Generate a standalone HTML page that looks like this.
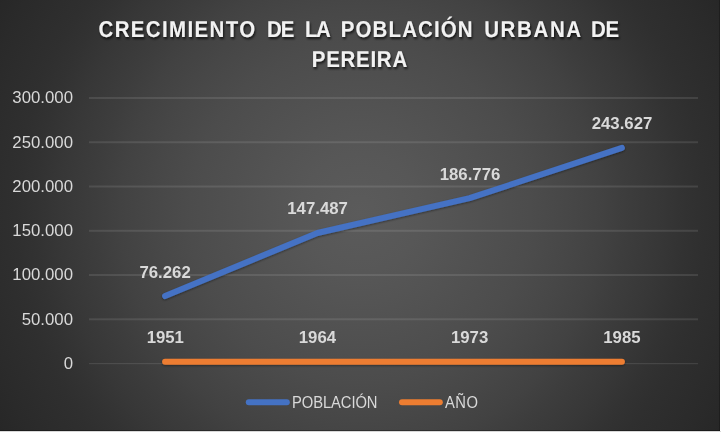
<!DOCTYPE html>
<html>
<head>
<meta charset="utf-8">
<style>
html,body{margin:0;padding:0;background:#fff;width:723px;height:432px;overflow:hidden}
svg{display:block;position:absolute;left:0;top:0}
text{font-family:"Liberation Sans",sans-serif}
</style>
</head>
<body>
<svg width="723" height="432" viewBox="0 0 723 432">
  <defs>
    <radialGradient id="bg" gradientUnits="userSpaceOnUse" cx="360" cy="213" r="421">
      <stop offset="0.0000" stop-color="rgb(91,91,91)"/>
      <stop offset="0.1425" stop-color="rgb(87,87,87)"/>
      <stop offset="0.3088" stop-color="rgb(80,80,80)"/>
      <stop offset="0.4038" stop-color="rgb(76,76,76)"/>
      <stop offset="0.4917" stop-color="rgb(71,71,71)"/>
      <stop offset="0.5701" stop-color="rgb(66,66,66)"/>
      <stop offset="0.6295" stop-color="rgb(61,61,61)"/>
      <stop offset="0.7126" stop-color="rgb(55,55,55)"/>
      <stop offset="0.7720" stop-color="rgb(50,50,50)"/>
      <stop offset="0.8195" stop-color="rgb(47,47,47)"/>
      <stop offset="0.9382" stop-color="rgb(41.5,41.5,41.5)"/>
      <stop offset="1.0000" stop-color="rgb(39,39,39)"/>
    </radialGradient>
    <filter id="shd" x="-10%" y="-30%" width="120%" height="160%">
      <feGaussianBlur in="SourceAlpha" stdDeviation="1.2"/>
      <feOffset dx="0.3" dy="0.6" result="b"/>
      <feComponentTransfer><feFuncA type="linear" slope="0.42"/></feComponentTransfer>
      <feMerge><feMergeNode/><feMergeNode in="SourceGraphic"/></feMerge>
    </filter>
    <filter id="tshd" x="-5%" y="-30%" width="110%" height="160%">
      <feGaussianBlur in="SourceAlpha" stdDeviation="1"/>
      <feOffset dx="1" dy="1.5" result="b"/>
      <feComponentTransfer><feFuncA type="linear" slope="0.7"/></feComponentTransfer>
      <feMerge><feMergeNode/><feMergeNode in="SourceGraphic"/></feMerge>
    </filter>
  </defs>
  <!-- chart area -->
  <rect x="0" y="0" width="720" height="431" fill="url(#bg)"/>
  <rect x="0" y="431" width="721" height="1" fill="#d8d8d8"/>
  <rect x="719" y="0" width="1" height="431" fill="#000" opacity="0.25"/>
  <rect x="0" y="430" width="720" height="1" fill="#000" opacity="0.3"/>

  <!-- title -->
  <g filter="url(#tshd)" fill="#f2f2f2" font-weight="bold" font-size="23.0" text-rendering="geometricPrecision">
    <text transform="translate(98.50,37) scale(0.89,1)" textLength="176.07" lengthAdjust="spacing">CRECIMIENTO</text>
    <text transform="translate(266.90,37) scale(0.89,1)" textLength="30.90" lengthAdjust="spacing">DE</text>
    <text transform="translate(305.00,37) scale(0.89,1)" textLength="29.10" lengthAdjust="spacing">LA</text>
    <text transform="translate(340.80,37) scale(0.89,1)" textLength="148.09" lengthAdjust="spacing">POBLACIÓN</text>
    <text transform="translate(484.20,37) scale(0.89,1)" textLength="108.88" lengthAdjust="spacing">URBANA</text>
    <text transform="translate(590.90,37) scale(0.89,1)" textLength="31.69" lengthAdjust="spacing">DE</text>
    <text transform="translate(311.80,67) scale(0.89,1)" textLength="107.19" lengthAdjust="spacing">PEREIRA</text>
  </g>

  <!-- gridlines -->
  <g fill="#ffffff" fill-opacity="0.1">
    <rect x="89" y="97" width="609" height="2"/>
    <rect x="89" y="141.26" width="609" height="2"/>
    <rect x="89" y="185.52" width="609" height="2"/>
    <rect x="89" y="229.78" width="609" height="2"/>
    <rect x="89" y="274.04" width="609" height="2"/>
    <rect x="89" y="318.3" width="609" height="2"/>
  </g>
  <rect x="89" y="363" width="609" height="1.2" fill="#ffffff" fill-opacity="0.1"/>

  <!-- y axis labels -->
  <g fill="#d9d9d9" font-size="16.8" text-anchor="end">
    <text x="73" y="103.3">300.000</text>
    <text x="73" y="147.6">250.000</text>
    <text x="73" y="191.8">200.000</text>
    <text x="73" y="236.1">150.000</text>
    <text x="73" y="280.3">100.000</text>
    <text x="73" y="324.6">50.000</text>
    <text x="73" y="368.9">0</text>
  </g>

  <!-- series -->
  <g fill="none" stroke-width="6" stroke-linecap="round" stroke-linejoin="round" filter="url(#shd)">
    <polyline stroke="#ED7D31" points="165.1,361.8 317.4,361.8 469.6,361.8 621.9,361.8"/>
    <polyline stroke="#4472C4" points="165.1,296.05 317.4,233.0 469.6,198.2 621.9,147.9"/>
  </g>

  <!-- data labels -->
  <g fill="#d9d9d9" font-size="16.8" font-weight="bold" text-anchor="middle">
    <text x="165.1" y="278">76.262</text>
    <text x="317.6" y="214">147.487</text>
    <text x="470" y="180.2">186.776</text>
    <text x="622" y="129">243.627</text>
    <text x="165.3" y="343">1951</text>
    <text x="317.4" y="343">1964</text>
    <text x="469.6" y="343">1973</text>
    <text x="621.9" y="343">1985</text>
  </g>

  <!-- legend -->
  <g stroke-width="6" stroke-linecap="round">
    <line x1="248.8" y1="402.2" x2="286.8" y2="402.2" stroke="#4472C4"/>
    <line x1="402" y1="402.2" x2="439.8" y2="402.2" stroke="#ED7D31"/>
  </g>
  <g fill="#d9d9d9" font-size="16.8">
    <text transform="translate(292.00,407.7) scale(0.88,1)" textLength="97.16" lengthAdjust="spacing">POBLACIÓN</text>
    <text transform="translate(445.00,407.7) scale(0.88,1)" textLength="37.50" lengthAdjust="spacing">AÑO</text>
  </g>
</svg>
</body>
</html>
